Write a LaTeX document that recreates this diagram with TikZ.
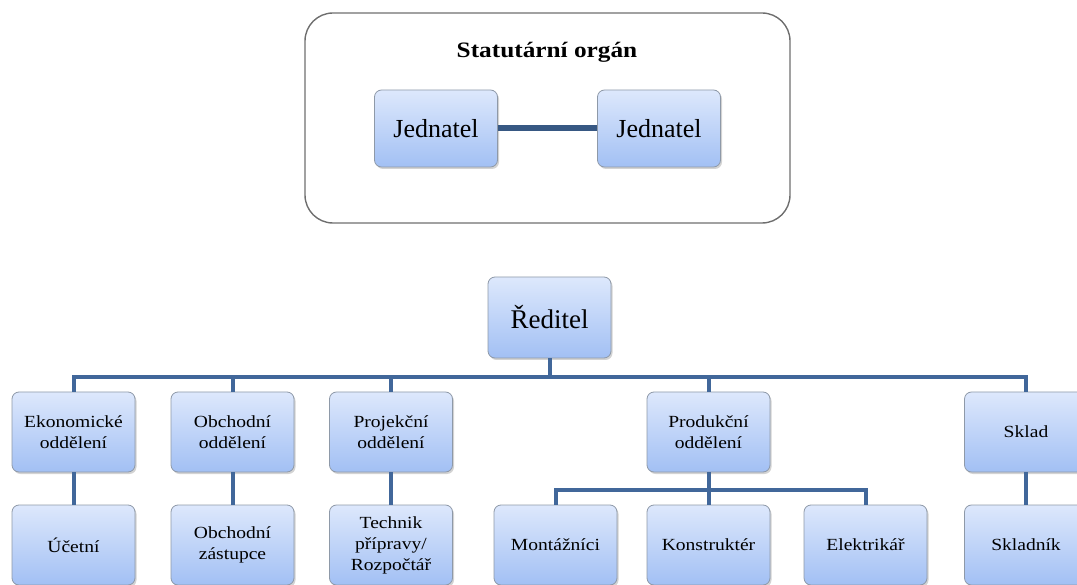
\documentclass[tikz,border=0pt]{standalone}
\usepackage{fontspec}
\setmainfont{Liberation Serif}
\newfontfamily\widefont[FakeStretch=1.15]{Liberation Serif}
\usetikzlibrary{shadows}
\definecolor{boxtop}{HTML}{DDE8FC}
\definecolor{boxbot}{HTML}{A2C0F4}
\definecolor{boxedge}{HTML}{8E99A8}
\definecolor{linkblue}{HTML}{41679A}
\definecolor{framegray}{HTML}{6E6E6E}

\begin{document}
\begin{tikzpicture}[x=1pt,y=-1pt,
	unit/.style={draw=boxedge, line width=0.8pt, rounded corners=7pt, top color=boxtop, bottom color=boxbot,
		minimum width=123pt, minimum height=80pt, align=center, inner sep=2pt,
		drop shadow={shadow xshift=1.5pt, shadow yshift=-2pt, opacity=0.35}},
	dept/.style={unit, font=\widefont\fontsize{17}{21}\selectfont},
	link/.style={draw=linkblue, line width=4pt}]
	\useasboundingbox (0,0) rectangle (1077,585);
	\clip (0,0) rectangle (1077,585);

	% statutarni organ
	\draw[framegray, line width=1.4pt, rounded corners=28pt] (305,13) rectangle (790,223);
	\node[font=\widefont\bfseries\fontsize{22}{26}\selectfont] (organ) at (547,52) {Statutární orgán};
	\node[unit, minimum height=77pt, font=\fontsize{26}{30}\selectfont] (jedA) at (436,128.5) {Jednatel};
	\node[unit, minimum height=77pt, font=\fontsize{26}{30}\selectfont] (jedB) at (659,128.5) {Jednatel};
	\draw[draw=linkblue!85!black, line width=6pt] (jedA) -- (jedB);

	% reditel a oddeleni
	\node[unit, minimum height=81pt, font=\fontsize{27}{31}\selectfont] (reditel) at (549.5,317.5) {Ředitel};

	\node[dept] (eko) at (73.5,432) {Ekonomické\\oddělení};
	\node[dept] (obch) at (232.5,432) {Obchodní\\oddělení};
	\node[dept] (proj) at (391,432) {Projekční\\oddělení};
	\node[dept] (prod) at (708.5,432) {Produkční\\oddělení};
	\node[dept] (sklad) at (1026,432) {Sklad};

	\node[dept] (ucet) at (73.5,545) {Účetní};
	\node[dept] (zast) at (232.5,545) {Obchodní\\zástupce};
	\node[dept] (tech) at (391,545) {Technik\\přípravy/\\Rozpočtář};
	\node[dept] (mont) at (555.5,545) {Montážníci};
	\node[dept] (kons) at (708.5,545) {Konstruktér};
	\node[dept] (elek) at (865.5,545) {Elektrikář};
	\node[dept] (skladnik) at (1026,545) {Skladník};

	\foreach \d in {eko,obch,proj,prod,sklad}
		\draw[link] (reditel.south) -- ++(0,19) -| (\d.north);
	\foreach \a/\b in {eko/ucet, obch/zast, proj/tech, sklad/skladnik}
		\draw[link] (\a) -- (\b);
	\foreach \b in {mont,kons,elek}
		\draw[link] (prod.south) -- ++(0,18) -| (\b.north);

\end{tikzpicture}
\end{document}
